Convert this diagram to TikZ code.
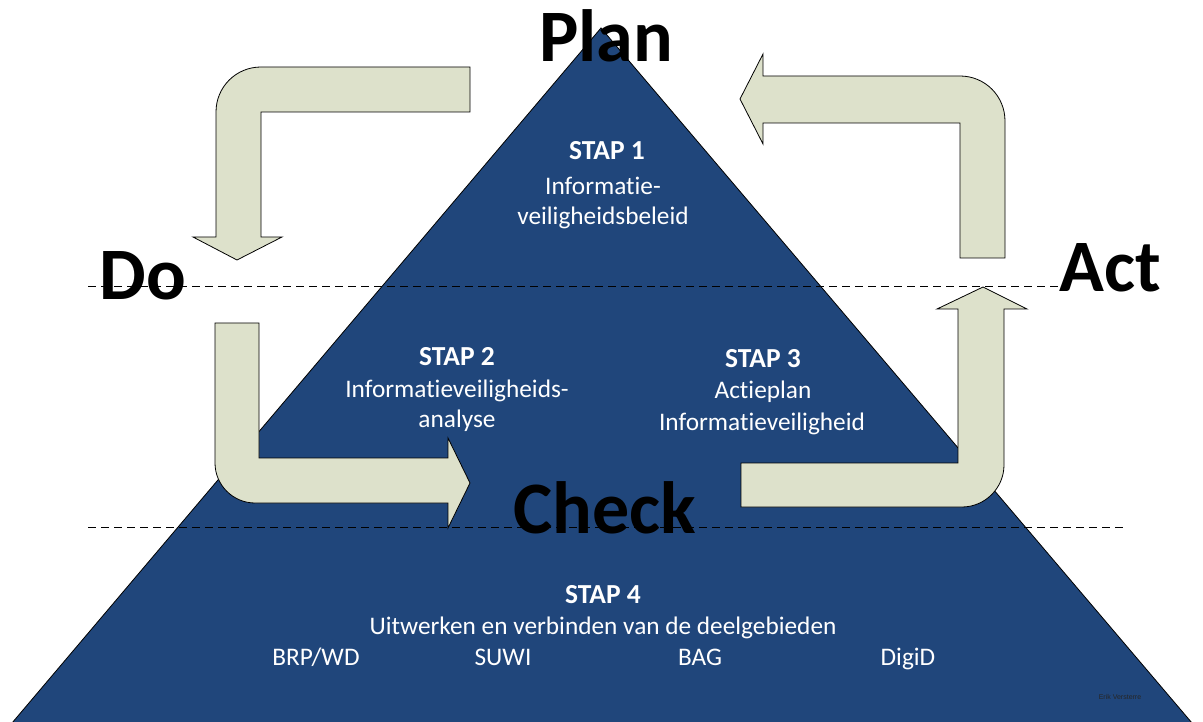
\documentclass[tikz,border=0pt]{standalone}
\usepackage{fontspec}
\setmainfont{Carlito}[Ligatures={NoCommon}]
\newfontfamily\smallsans{Liberation Sans}
\definecolor{triblue}{RGB}{32,70,123}
\definecolor{arrfill}{RGB}{221,225,203}
\begin{document}
\begin{tikzpicture}[x=1pt,y=-1pt,
  tri/.style={fill=triblue,draw=black,line width=0.8pt},
  arr/.style={fill=arrfill,draw=black,line width=0.8pt,line join=miter},
  guide/.style={draw=black,line width=0.9pt,dash pattern=on 8pt off 5pt},
  big/.style={font=\fontsize{74}{80}\selectfont\bfseries,text=black,inner sep=0pt,anchor=base},
  hd/.style={font=\fontsize{27.5}{30}\selectfont\bfseries,text=white,inner sep=0pt,anchor=base},
  tx/.style={font=\fontsize{25.3}{30}\selectfont,text=white,inner sep=0pt,anchor=base}]
\useasboundingbox (0,0) rectangle (1203,722);

% pyramid
\draw[tri] (601,28) -- (12,723) -- (1192,723) -- cycle;

% dashed guide lines
\coordinate (d1a) at (88,286);
\coordinate (d1b) at (1060,286);
\coordinate (d2a) at (88,527);
\coordinate (d2b) at (1126,527);
\draw[guide] (d1a) -- (d1b);
\draw[guide] (d2a) -- (d2b);

% arrow Plan -> Do
\draw[arr] (470,67) -- (261,67) .. controls (236,67) and (216,87) .. (216,112)
  -- (216,237) -- (193,237) -- (237,260) -- (282,237) -- (261,237)
  -- (261,112) -- (470,112) -- cycle;

% arrow Act -> Plan
\draw[arr] (740,99) -- (763,54) -- (763,76) -- (960,76)
  .. controls (985,76) and (1005,96) .. (1005,121)
  -- (1005,258) -- (960,258) -- (960,123) -- (763,123) -- (763,144) -- cycle;

% arrow Do -> Check
\draw[arr] (215,323) -- (259,323) -- (259,458) -- (448,458) -- (448,438)
  -- (470,483) -- (448,528) -- (448,503) -- (255,503)
  .. controls (233,503) and (215,485) .. (215,463) -- cycle;

% arrow Check -> Act
\draw[arr] (741,463) -- (958,463) -- (958,309) -- (937,309) -- (983,287)
  -- (1027,309) -- (1004,309) -- (1004,465)
  .. controls (1004,488) and (985,507) .. (962,507) -- (741,507) -- cycle;

% big labels
\node[big] (plan) at (606,62) {Plan};
\node[big] (do) at (143,300) {Do};
\node[big] (act) at (1110,292) {Act};
\node[big] (check) at (605,533) {Check};

% stap 1
\node[hd] (s1h) at (607,160) {STAP 1};
\node[tx] (s1a) at (603,195) {Informatie-};
\node[tx] (s1b) at (603,225) {veiligheidsbeleid};

% stap 2
\node[hd] (s2h) at (457,365) {STAP 2};
\node[tx] (s2a) at (457,397) {Informatieveiligheids-};
\node[tx] (s2b) at (457,427) {analyse};

% stap 3
\node[hd] (s3h) at (763,367) {STAP 3};
\node[tx] (s3a) at (763,398) {Actieplan};
\node[tx] (s3b) at (762,430) {Informatieveiligheid};

% stap 4
\node[hd] (s4h) at (603,603) {STAP 4};
\node[tx] (s4a) at (603,634) {Uitwerken en verbinden van de deelgebieden};
\node[tx] (brp) at (316,665) {BRP/WD};
\node[tx] (suwi) at (503,665) {SUWI};
\node[tx] (bag) at (700,665) {BAG};
\node[tx] (digid) at (908,665) {DigiD};

% credit
\node[font=\smallsans\fontsize{7}{8}\selectfont,text=black!85,inner sep=0pt] (credit) at (1120,697) {Erik Versterre};
\end{tikzpicture}
\end{document}
